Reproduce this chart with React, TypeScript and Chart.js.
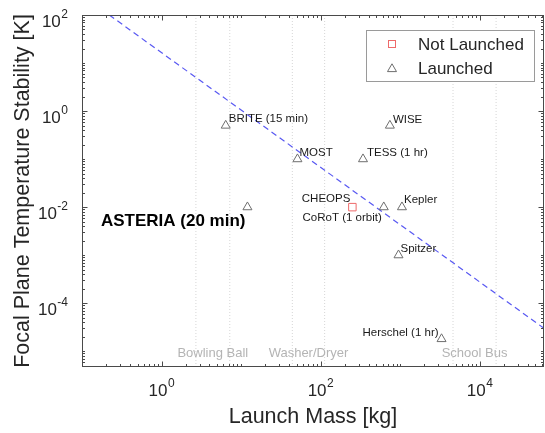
import React, { useEffect, useRef } from 'react';
import { Chart, registerables } from 'chart.js';

Chart.register(...registerables);

// ---------- data ----------
const launchedNames = [
  'BRITE (15 min)', 'WISE', 'MOST', 'TESS (1 hr)', 'ASTERIA (20 min)',
  'CoRoT (1 orbit)', 'Kepler', 'Spitzer', 'Herschel (1 hr)',
];
const launchedMass = [6.4, 740, 51, 340, 12, 620, 1050, 950, 3300];
const launchedStability = [0.5, 0.5, 0.1, 0.1, 0.01, 0.01, 0.01, 0.001, 1.8e-5];

const notLaunchedNames = ['CHEOPS'];
const notLaunchedMass = [250];
const notLaunchedStability = [0.01];

const trendMass = [0.22, 64000];
const trendStability = [100, 3.0e-5];

const rangeNames = ['Bowling Ball', 'Washer/Dryer', 'School Bus'];
const rangeLow = [2.7, 44, 4600];
const rangeHigh = [7.2, 112, 16000];

const xTickValues = [1, 100, 10000];
const xTickExps = ['0', '2', '4'];
const yTickValues = [100, 1, 0.01, 0.0001];
const yTickExps = ['2', '0', '-2', '-4'];

const X_MIN = 0.1;
const X_MAX = 64000;
const Y_MIN = 4.7e-6;
const Y_MAX = 100;

const xTitle = 'Launch Mass [kg]';
const yTitle = 'Focal Plane Temperature Stability [K]';
const legendLabels = ['Not Launched', 'Launched'];

// ---------- styles ----------
const FONT = '"Liberation Sans", Arial, Helvetica, sans-serif';
const AXIS_COLOR = '#4a4a4a';
const TEXT_COLOR = '#262626';
const TRI_COLOR = '#6e6e6e';
const SQ_COLOR = '#ee6a6a';
const TREND_COLOR = '#5858f2';
const RANGE_COLOR = '#d6d6d6';

type Place = { dx: number; dy: number; align: CanvasTextAlign; bold?: boolean };
const labelPlacement: Record<string, Place> = {
  'BRITE (15 min)': { dx: 3, dy: -7, align: 'left' },
  WISE: { dx: 3, dy: -6, align: 'left' },
  MOST: { dx: 2, dy: -6, align: 'left' },
  'TESS (1 hr)': { dx: 4, dy: -6, align: 'left' },
  'ASTERIA (20 min)': { dx: -2, dy: 14, align: 'right', bold: true },
  'CoRoT (1 orbit)': { dx: -2, dy: 11, align: 'right' },
  Kepler: { dx: 2, dy: -7, align: 'left' },
  Spitzer: { dx: 2, dy: -6, align: 'left' },
  'Herschel (1 hr)': { dx: -3, dy: -6, align: 'right' },
  CHEOPS: { dx: -2, dy: -8, align: 'right' },
};

function drawTriangle(ctx: CanvasRenderingContext2D, x: number, y: number, r: number) {
  ctx.beginPath();
  for (let i = 0; i < 3; i++) {
    const ang = (i * 2 * Math.PI) / 3;
    const px = x + Math.sin(ang) * r;
    const py = y - Math.cos(ang) * r;
    if (i === 0) ctx.moveTo(px, py);
    else ctx.lineTo(px, py);
  }
  ctx.closePath();
  ctx.stroke();
}

function drawPow(
  ctx: CanvasRenderingContext2D,
  exp: string,
  xRef: number,
  baseline: number,
  align: 'center' | 'right'
) {
  ctx.font = `17px ${FONT}`;
  const wb = ctx.measureText('10').width;
  ctx.font = `12px ${FONT}`;
  const we = ctx.measureText(exp).width;
  const total = wb + we + 0.5;
  const left = align === 'center' ? xRef - total / 2 : xRef - total;
  ctx.textAlign = 'left';
  ctx.textBaseline = 'alphabetic';
  ctx.font = `17px ${FONT}`;
  ctx.fillText('10', left, baseline);
  ctx.font = `12px ${FONT}`;
  ctx.fillText(exp, left + wb + 0.5, baseline - 9);
}

const annotPlugin = {
  id: 'annot',
  afterDraw(chart: any) {
    const ctx: CanvasRenderingContext2D = chart.ctx;
    const a = chart.chartArea;
    const xs = chart.scales.x;
    const ys = chart.scales.y;
    ctx.save();

    // range labels
    ctx.fillStyle = '#b4b4b4';
    ctx.font = `13px ${FONT}`;
    ctx.textAlign = 'center';
    ctx.textBaseline = 'middle';
    rangeNames.forEach((n, i) => {
      const cx = (xs.getPixelForValue(rangeLow[i]) + xs.getPixelForValue(rangeHigh[i])) / 2;
      ctx.fillText(n, cx, a.bottom - 14);
    });

    // data labels
    const drawLabel = (name: string, mx: number, sy: number) => {
      const p = labelPlacement[name] || { dx: 3, dy: -6, align: 'left' };
      const px = xs.getPixelForValue(mx);
      const py = ys.getPixelForValue(sy);
      ctx.fillStyle = p.bold ? '#000' : '#1a1a1a';
      ctx.font = p.bold ? `bold 17px ${FONT}` : `11.5px ${FONT}`;
      ctx.textAlign = p.align;
      ctx.textBaseline = 'middle';
      ctx.fillText(name, px + p.dx, py + p.dy);
    };
    launchedNames.forEach((n, i) => drawLabel(n, launchedMass[i], launchedStability[i]));
    notLaunchedNames.forEach((n, i) => drawLabel(n, notLaunchedMass[i], notLaunchedStability[i]));

    // box
    ctx.strokeStyle = AXIS_COLOR;
    ctx.lineWidth = 1;
    const L = Math.round(a.left) + 0.5;
    const R = Math.round(a.right) - 0.5;
    const T = Math.round(a.top) + 0.5;
    const B = Math.round(a.bottom) - 0.5;
    ctx.strokeRect(L, T, R - L, B - T);

    // ticks (inward, all four sides)
    ctx.beginPath();
    for (let k = -2; k <= 5; k++) {
      for (let m = 1; m <= 9; m++) {
        const v = m * Math.pow(10, k);
        if (v < X_MIN * 0.999 || v > X_MAX) continue;
        const major = m === 1 && k % 2 === 0;
        const len = major ? 5 : 2.5;
        const px = Math.round(xs.getPixelForValue(v)) + 0.5;
        ctx.moveTo(px, B);
        ctx.lineTo(px, B - len);
        ctx.moveTo(px, T);
        ctx.lineTo(px, T + len);
      }
    }
    for (let k = -6; k <= 2; k++) {
      for (let m = 1; m <= 9; m++) {
        const v = m * Math.pow(10, k);
        if (v < Y_MIN || v > Y_MAX * 1.001) continue;
        const major = m === 1 && k % 2 === 0;
        const len = major ? 5 : 2.5;
        const py = Math.round(ys.getPixelForValue(v)) + 0.5;
        ctx.moveTo(L, py);
        ctx.lineTo(L + len, py);
        ctx.moveTo(R, py);
        ctx.lineTo(R - len, py);
      }
    }
    ctx.stroke();

    // tick labels
    ctx.fillStyle = TEXT_COLOR;
    xTickValues.forEach((v, i) => {
      drawPow(ctx, xTickExps[i], xs.getPixelForValue(v), a.bottom + 29, 'center');
    });
    yTickValues.forEach((v, i) => {
      drawPow(ctx, yTickExps[i], a.left - 14, ys.getPixelForValue(v) + 12, 'right');
    });

    // axis titles
    ctx.fillStyle = TEXT_COLOR;
    ctx.font = `21.5px ${FONT}`;
    ctx.textAlign = 'center';
    ctx.textBaseline = 'middle';
    ctx.fillText(xTitle, (a.left + a.right) / 2, a.bottom + 50);
    ctx.save();
    ctx.translate(23, (a.top + a.bottom) / 2);
    ctx.rotate(-Math.PI / 2);
    ctx.fillText(yTitle, 0, 0);
    ctx.restore();

    // legend
    const lx = 366.5, ly = 30.5, lw = 168, lh = 51;
    ctx.fillStyle = '#fff';
    ctx.fillRect(lx, ly, lw, lh);
    ctx.strokeStyle = '#9a9a9a';
    ctx.lineWidth = 1;
    ctx.strokeRect(lx, ly, lw, lh);
    ctx.strokeStyle = SQ_COLOR;
    ctx.strokeRect(388.5, 40.5, 7, 7);
    ctx.strokeStyle = TRI_COLOR;
    drawTriangle(ctx, 392, 69, 5.2);
    ctx.fillStyle = TEXT_COLOR;
    ctx.font = `17px ${FONT}`;
    ctx.textAlign = 'left';
    ctx.textBaseline = 'middle';
    ctx.fillText(legendLabels[0], 418, 45);
    ctx.fillText(legendLabels[1], 418, 69);

    ctx.restore();
  },
};

export default function App() {
  const ref = useRef<HTMLCanvasElement | null>(null);

  useEffect(() => {
    if (!ref.current) return;
    const rangeSets: any[] = [];
    rangeNames.forEach((n, i) => {
      [rangeLow[i], rangeHigh[i]].forEach((v) => {
        rangeSets.push({
          label: n,
          data: [
            { x: v, y: Y_MIN },
            { x: v, y: Y_MAX },
          ],
          showLine: true,
          pointRadius: 0,
          borderColor: RANGE_COLOR,
          borderWidth: 1,
          borderDash: [1, 2],
          order: 3,
        });
      });
    });

    const chart = new Chart(ref.current, {
      type: 'scatter',
      data: {
        datasets: [
          {
            label: legendLabels[0],
            data: notLaunchedMass.map((m, i) => ({ x: m, y: notLaunchedStability[i] })),
            pointStyle: 'rect',
            pointRadius: 5.3,
            borderColor: SQ_COLOR,
            backgroundColor: 'rgba(0,0,0,0)',
            borderWidth: 1,
            order: 0,
          },
          {
            label: legendLabels[1],
            data: launchedMass.map((m, i) => ({ x: m, y: launchedStability[i] })),
            pointStyle: 'triangle',
            pointRadius: 5.2,
            borderColor: TRI_COLOR,
            backgroundColor: 'rgba(0,0,0,0)',
            borderWidth: 1,
            order: 0,
          },
          {
            label: 'trend',
            data: trendMass.map((m, i) => ({ x: m, y: trendStability[i] })),
            showLine: true,
            pointRadius: 0,
            borderColor: TREND_COLOR,
            borderWidth: 1.2,
            borderDash: [6, 4],
            order: 1,
          },
          ...rangeSets,
        ],
      },
      options: {
        responsive: false,
        animation: false,
        devicePixelRatio: 1,
        events: [],
        layout: { autoPadding: false, padding: { left: 82, top: 15, right: 1, bottom: 66 } },
        plugins: { legend: { display: false }, tooltip: { enabled: false } },
        scales: {
          x: { type: 'logarithmic', min: X_MIN, max: X_MAX, display: false },
          y: { type: 'logarithmic', min: Y_MIN, max: Y_MAX, display: false },
        },
      },
      plugins: [annotPlugin],
    });
    return () => chart.destroy();
  }, []);

  return (
    <div style={{ position: 'absolute', left: 0, top: 0, width: 545, height: 433, background: '#fff' }}>
      <canvas ref={ref} width={545} height={433} style={{ display: 'block' }} />
    </div>
  );
}
